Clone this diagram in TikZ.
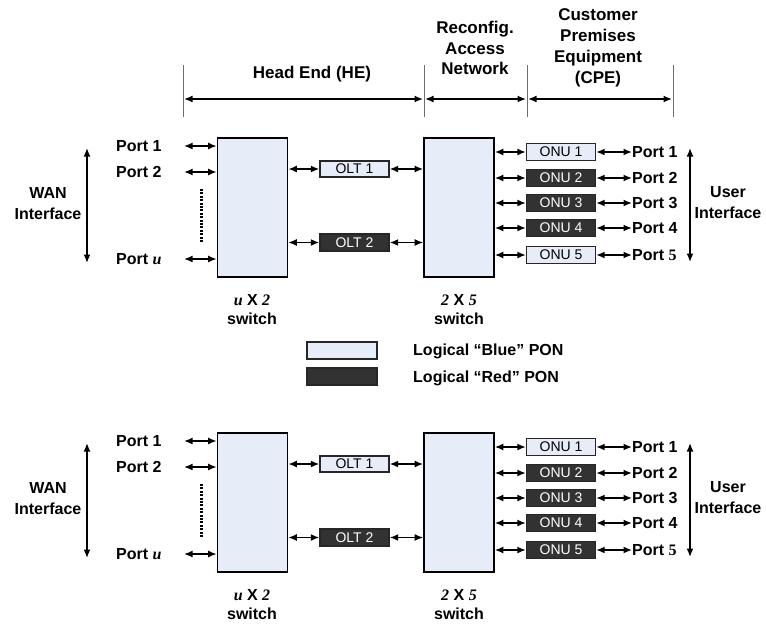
\documentclass[tikz,border=0pt]{standalone}
\usepackage{fontspec}
\setmainfont{Liberation Sans}
\newfontfamily\tms{Liberation Serif}
\usetikzlibrary{arrows.meta}
\definecolor{lblue}{RGB}{231,237,248}
\definecolor{dgray}{RGB}{50,50,50}
\definecolor{tickgray}{RGB}{110,110,110}
\tikzset{
 swbox/.style={draw=black, fill=lblue, line width=1.6pt, minimum width=70pt, minimum height=139pt, inner sep=0pt},
 bluebox/.style={draw=black!85, fill=lblue, line width=1.4pt, minimum width=69pt, minimum height=16pt, inner sep=0pt, font=\fontsize{14}{16}\selectfont},
 redbox/.style={bluebox, fill=dgray, text=white},
 biarr/.style={{Latex[length=8.5pt,width=7pt]}-{Latex[length=8.5pt,width=7pt]}, line width=1.5pt},
 lbl/.style={font=\fontsize{16}{21}\selectfont\bfseries, inner sep=0pt},
 hdr/.style={font=\fontsize{17}{20.5}\selectfont\bfseries, align=center, inner sep=0pt},
 tickline/.style={draw=tickgray, line width=1pt},
}
\newcommand\panel[3]{%
\begin{scope}[yshift=#2]
 \node[swbox] (#1swa) at (252.5,207.5) {};
 \node[swbox] (#1swb) at (459,207.5) {};
 \node[lbl, anchor=west] (#1pa) at (116,146) {Port 1};
 \node[lbl, anchor=west] (#1pb) at (116,172) {Port 2};
 \node[lbl, anchor=west] (#1pu) at (116,259) {Port {\tms\itshape u}};
 \coordinate (#1ca) at (184,146);
 \coordinate (#1cb) at (184,172);
 \coordinate (#1cu) at (184,259);
 \draw[biarr] (#1ca) -- (#1ca -| #1swa.west);
 \draw[biarr] (#1cb) -- (#1cb -| #1swa.west);
 \draw[biarr] (#1cu) -- (#1cu -| #1swa.west);
 \coordinate (#1da) at (201,189);
 \coordinate (#1db) at (201,243);
 \draw[line width=3pt, dash pattern=on 2pt off 1.4pt] (#1da) -- (#1db);
 \node[lbl, align=center] (#1wan) at (48,204) {WAN\\Interface};
 \coordinate (#1wt) at (87,148);
 \coordinate (#1wb) at (87,263);
 \draw[biarr] (#1wt) -- (#1wb);
 \node[bluebox] (#1olta) at (354.5,169) {OLT 1};
 \node[redbox, minimum height=17pt] (#1oltb) at (354.5,242.5) {OLT 2};
 \draw[biarr] (#1swa.east |- #1olta) -- (#1olta.west);
 \draw[biarr] (#1olta.east) -- (#1swb.west |- #1olta);
 \draw[biarr] (#1swa.east |- #1oltb) -- (#1oltb.west);
 \draw[biarr] (#1oltb.east) -- (#1swb.west |- #1oltb);
 \foreach \i/\y/\s/\t in {1/152/bluebox/{Port 1},2/178/redbox/{Port 2},3/203/redbox/{Port 3},4/228/redbox/{Port 4},5/255/#3/{Port {\tms 5}}}{
  \node[\s, minimum height=17pt] (#1onu\i) at (561,\y) {ONU \i};
  \draw[biarr] (#1swb.east |- #1onu\i) -- (#1onu\i.west);
  \node[lbl, anchor=west] (#1q\i) at (632,\y) {\t};
  \draw[biarr] (#1onu\i.east) -- (#1q\i.west);
 }
 \coordinate (#1ut) at (690,148);
 \coordinate (#1ub) at (690,262);
 \draw[biarr] (#1ut) -- (#1ub);
 \node[lbl, align=center] (#1usr) at (728,203) {User\\Interface};
 \node[lbl, align=center, font=\fontsize{16}{19}\selectfont\bfseries] (#1la) at (252,309.5) {{\tms\itshape u} X {\tms\itshape 2}\\switch};
 \node[lbl, align=center, font=\fontsize{16}{19}\selectfont\bfseries] (#1lb) at (459,309.5) {{\tms\itshape 2} X {\tms\itshape 5}\\switch};
\end{scope}}
\begin{document}
\begin{tikzpicture}[x=1pt,y=-1pt]
\useasboundingbox (0,0) rectangle (766,624);
% header
\coordinate (t1a) at (183,65); \coordinate (t1b) at (183,117);
\coordinate (t2a) at (424,65); \coordinate (t2b) at (424,117);
\coordinate (t3a) at (527,65); \coordinate (t3b) at (527,117);
\coordinate (t4a) at (673,65); \coordinate (t4b) at (673,117);
\draw[tickline] (t1a) -- (t1b);
\draw[tickline] (t2a) -- (t2b);
\draw[tickline] (t3a) -- (t3b);
\draw[tickline] (t4a) -- (t4b);
\coordinate (h1) at (184,99); \coordinate (h2a) at (423,99);
\coordinate (h2b) at (425,99); \coordinate (h3a) at (526,99);
\coordinate (h3b) at (528,99); \coordinate (h4) at (672,99);
\draw[biarr] (h1) -- (h2a);
\draw[biarr] (h2b) -- (h3a);
\draw[biarr] (h3b) -- (h4);
\node[hdr] (he) at (312,74) {Head End (HE)};
\node[hdr] (ran) at (475,48) {Reconfig.\\Access\\Network};
\node[hdr, font=\fontsize{17}{21}\selectfont\bfseries] (cpe) at (598,48) {Customer\\Premises\\Equipment\\(CPE)};
% panels
\panel{A}{0pt}{bluebox}
\panel{B}{-295pt}{redbox}
% legend
\node[bluebox, minimum width=70pt, minimum height=17pt] (lgb) at (342,350.5) {};
\node[redbox, minimum width=70pt, minimum height=17pt] (lgr) at (342,376.5) {};
\node[lbl, anchor=west] (lgbt) at (413,351) {Logical “Blue” PON};
\node[lbl, anchor=west] (lgrt) at (413,378) {Logical “Red” PON};
\end{tikzpicture}
\end{document}
